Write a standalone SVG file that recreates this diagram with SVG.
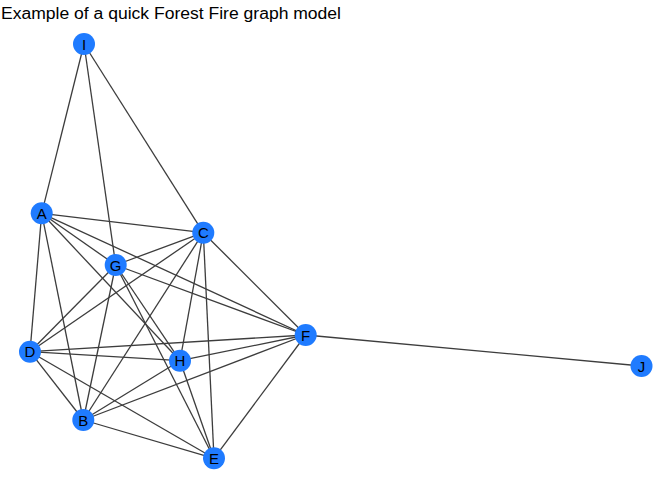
<svg xmlns="http://www.w3.org/2000/svg" width="672" height="480" viewBox="0 0 672 480">
<style>
.e{stroke:#3d3d3d;stroke-width:1.3;fill:none}
.n circle{fill:#1f7bff}
.n text{font-family:"Liberation Sans",Arial,sans-serif;font-size:15px;fill:#000;text-anchor:middle;dominant-baseline:central}
.t{font-family:"Liberation Sans",Arial,sans-serif;font-size:16px;fill:#000}
</style>
<rect width="672" height="480" fill="#fff"/>
<text class="t" x="1" y="18.5" textLength="340" lengthAdjust="spacingAndGlyphs">Example of a quick Forest Fire graph model</text>
<g id="edges">
<line class="e" x1="84" y1="44" x2="41.7" y2="213.3"/>
<line class="e" x1="84" y1="44" x2="115.7" y2="265"/>
<line class="e" x1="84" y1="44" x2="203.3" y2="232.7"/>
<line class="e" x1="41.7" y1="213.3" x2="203.3" y2="232.7"/>
<line class="e" x1="41.7" y1="213.3" x2="115.7" y2="265"/>
<line class="e" x1="41.7" y1="213.3" x2="305.7" y2="335"/>
<line class="e" x1="41.7" y1="213.3" x2="180" y2="360.7"/>
<line class="e" x1="41.7" y1="213.3" x2="30" y2="351.7"/>
<line class="e" x1="41.7" y1="213.3" x2="83.3" y2="420"/>
<line class="e" x1="115.7" y1="265" x2="203.3" y2="232.7"/>
<line class="e" x1="115.7" y1="265" x2="305.7" y2="335"/>
<line class="e" x1="115.7" y1="265" x2="180" y2="360.7"/>
<line class="e" x1="115.7" y1="265" x2="214" y2="458.3"/>
<line class="e" x1="115.7" y1="265" x2="30" y2="351.7"/>
<line class="e" x1="115.7" y1="265" x2="83.3" y2="420"/>
<line class="e" x1="203.3" y1="232.7" x2="30" y2="351.7"/>
<line class="e" x1="203.3" y1="232.7" x2="83.3" y2="420"/>
<line class="e" x1="203.3" y1="232.7" x2="180" y2="360.7"/>
<line class="e" x1="203.3" y1="232.7" x2="214" y2="458.3"/>
<line class="e" x1="203.3" y1="232.7" x2="305.7" y2="335"/>
<line class="e" x1="30" y1="351.7" x2="305.7" y2="335"/>
<line class="e" x1="30" y1="351.7" x2="180" y2="360.7"/>
<line class="e" x1="30" y1="351.7" x2="83.3" y2="420"/>
<line class="e" x1="30" y1="351.7" x2="214" y2="458.3"/>
<line class="e" x1="180" y1="360.7" x2="305.7" y2="335"/>
<line class="e" x1="180" y1="360.7" x2="83.3" y2="420"/>
<line class="e" x1="180" y1="360.7" x2="214" y2="458.3"/>
<line class="e" x1="83.3" y1="420" x2="305.7" y2="335"/>
<line class="e" x1="83.3" y1="420" x2="214" y2="458.3"/>
<line class="e" x1="214" y1="458.3" x2="305.7" y2="335"/>
<line class="e" x1="305.7" y1="335" x2="641.5" y2="366"/>
</g>
<g id="node-I" class="n"><circle cx="84" cy="44" r="11"/><text x="84" y="44">I</text></g>
<g id="node-A" class="n"><circle cx="41.7" cy="213.3" r="11"/><text x="41.7" y="213.3">A</text></g>
<g id="node-C" class="n"><circle cx="203.3" cy="232.7" r="11"/><text x="203.3" y="232.7">C</text></g>
<g id="node-G" class="n"><circle cx="115.7" cy="265" r="11"/><text x="115.7" y="265">G</text></g>
<g id="node-F" class="n"><circle cx="305.7" cy="335" r="11"/><text x="305.7" y="335">F</text></g>
<g id="node-D" class="n"><circle cx="30" cy="351.7" r="11"/><text x="30" y="351.7">D</text></g>
<g id="node-H" class="n"><circle cx="180" cy="360.7" r="11"/><text x="180" y="360.7">H</text></g>
<g id="node-B" class="n"><circle cx="83.3" cy="420" r="11"/><text x="83.3" y="420">B</text></g>
<g id="node-E" class="n"><circle cx="214" cy="458.3" r="11"/><text x="214" y="458.3">E</text></g>
<g id="node-J" class="n"><circle cx="641.5" cy="366" r="11"/><text x="641.5" y="366">J</text></g>
</svg>
